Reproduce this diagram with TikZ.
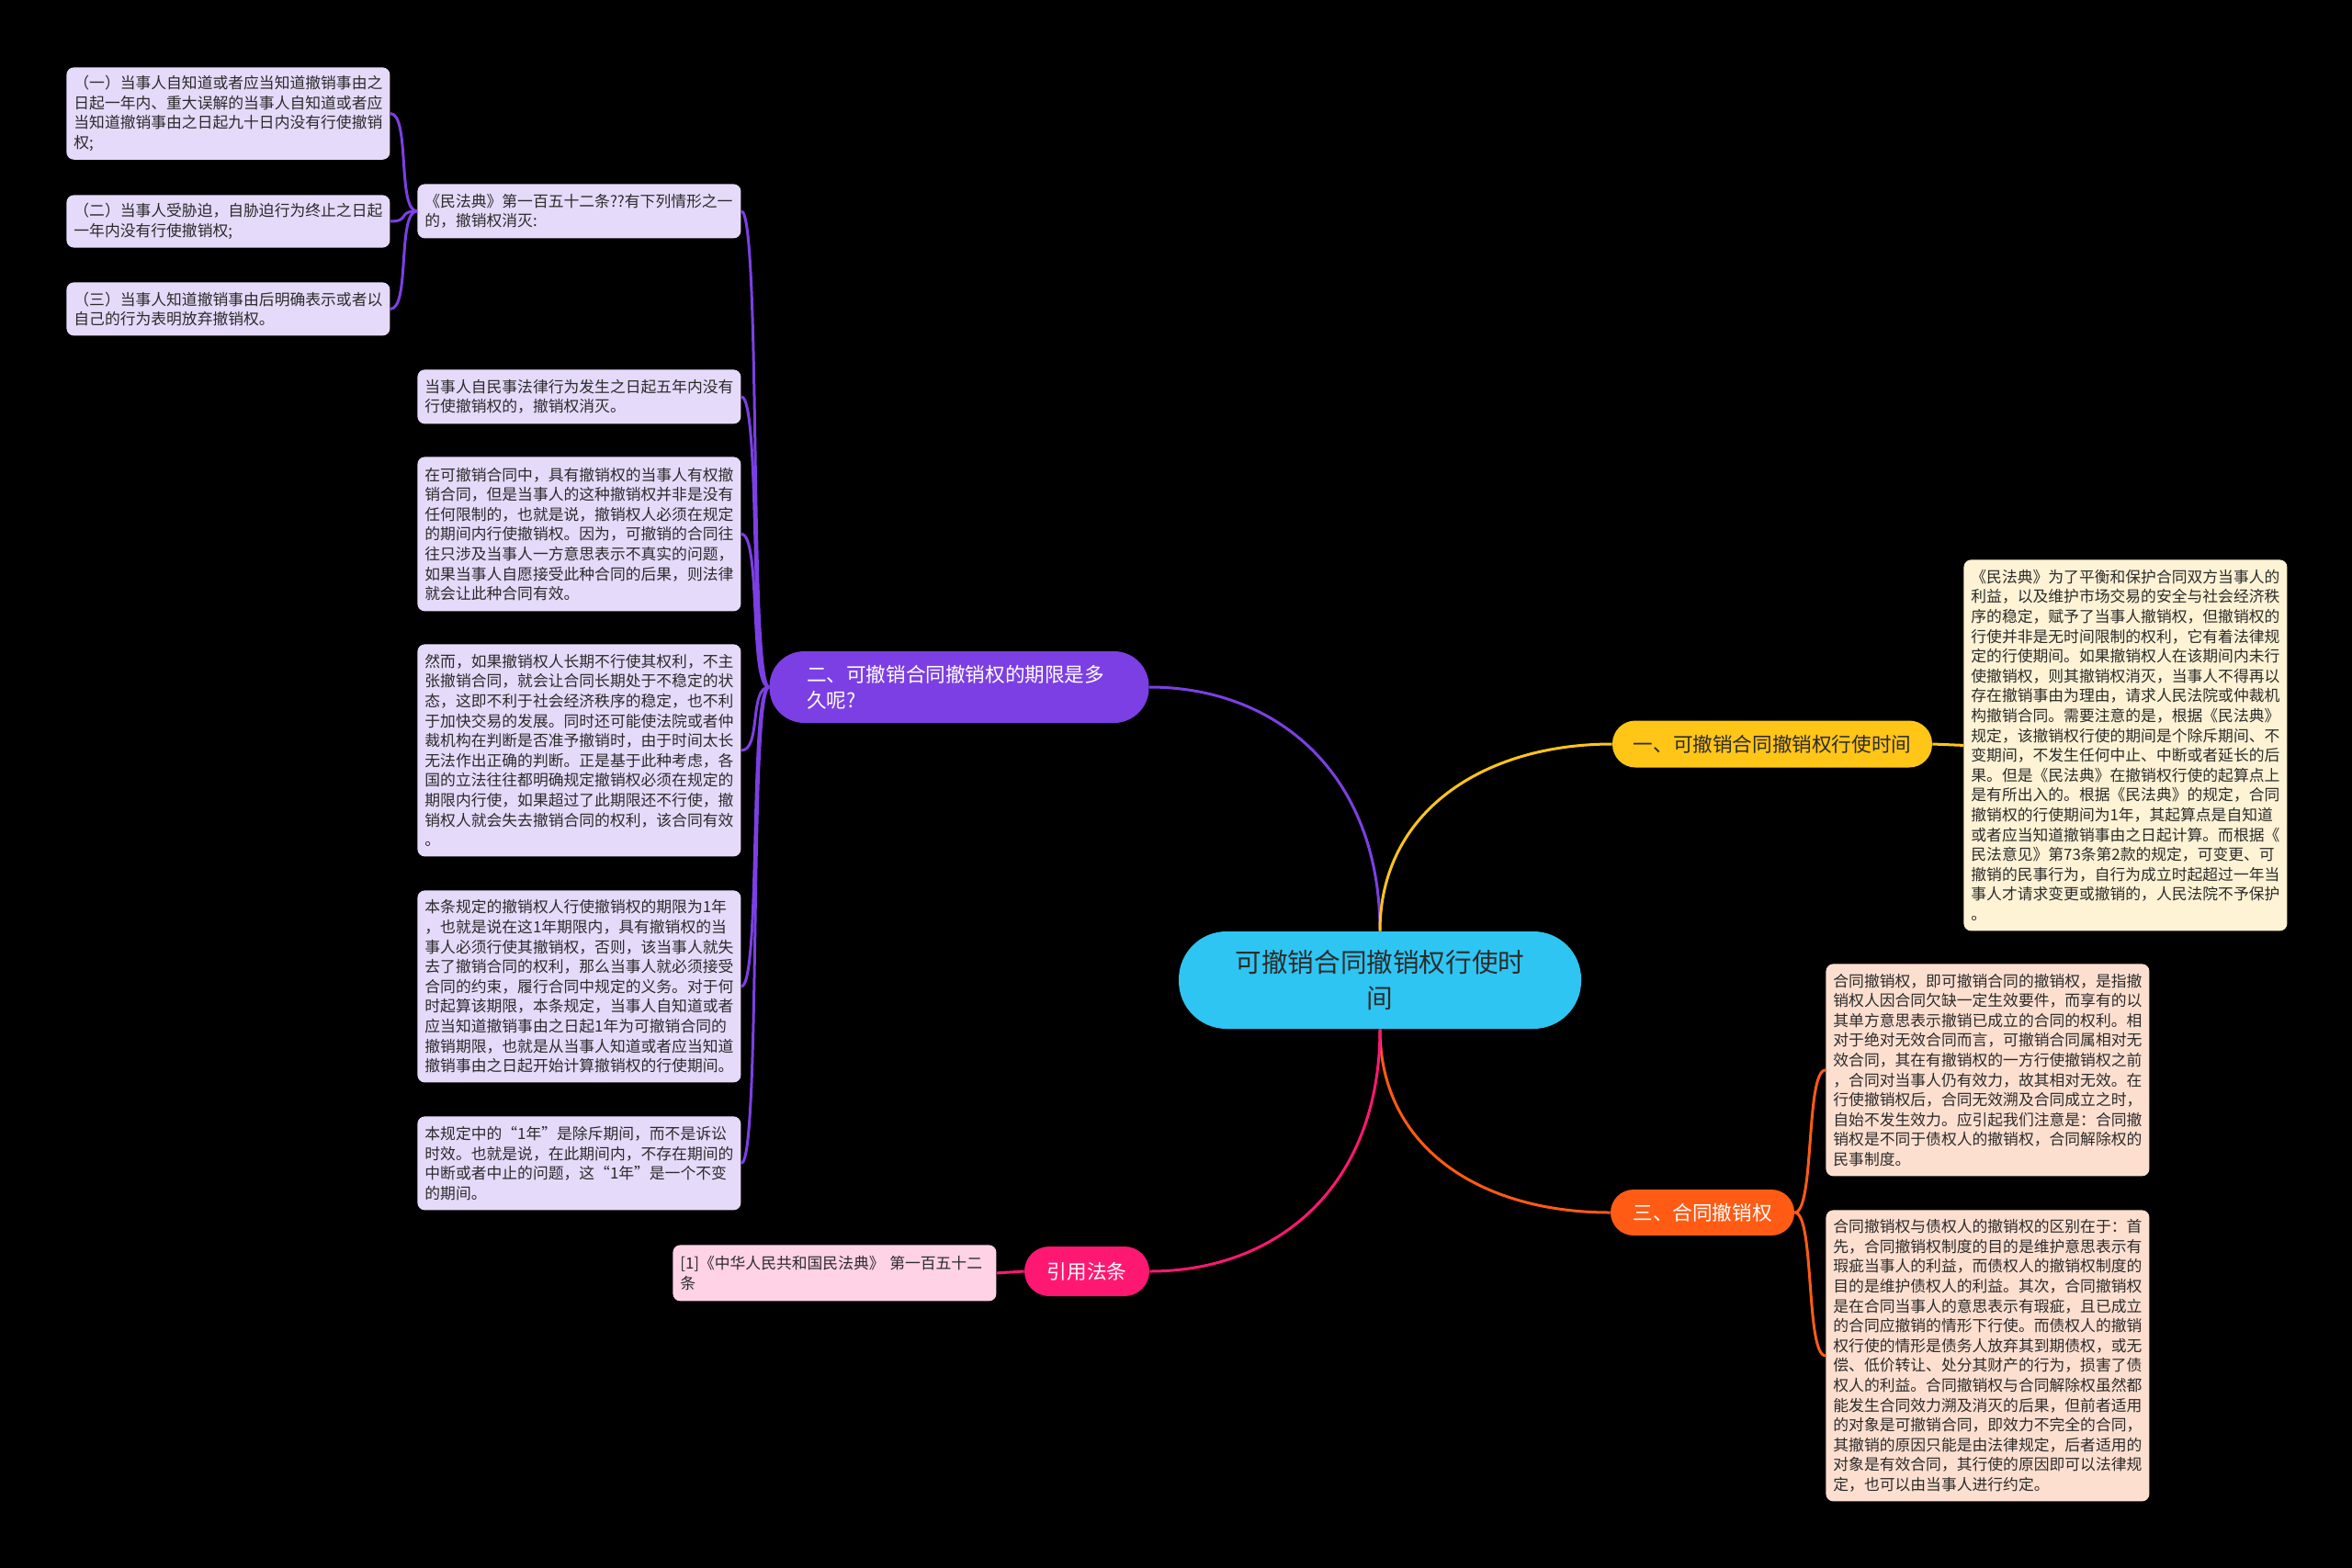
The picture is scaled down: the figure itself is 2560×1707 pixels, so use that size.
\documentclass[tikz,border=0pt]{standalone}
\usepackage{fontspec}
\setmainfont{Noto Sans CJK SC}
\usepackage{tikz}
\usetikzlibrary{
  arrows.meta,
  positioning,
  calc
}
\definecolor{ctRoot}{HTML}{2EC5F2}
\definecolor{ctYellow}{HTML}{FFC517}
\definecolor{ctPurple}{HTML}{7C3FE4}
\definecolor{ctOrange}{HTML}{FF5B14}
\definecolor{ctPink}{HTML}{FF1872}
\definecolor{ctPurpleLt}{HTML}{E6DAFA}
\definecolor{ctYellowLt}{HTML}{FFF3D5}
\definecolor{ctOrangeLt}{HTML}{FDDFD0}
\definecolor{ctPinkLt}{HTML}{FFD2E5}
\definecolor{ctText}{HTML}{2B2B2B}
\tikzset{
  ctleaf/.style={
    anchor=north west, rounded corners=4pt, text width=168pt, align=left,
    inner xsep=4pt, inner ysep=4.5pt, font=\fontsize{8.4}{10.8}\selectfont, text=ctText
  },
  purpleleaf/.style={ctleaf, fill=ctPurpleLt},
  yellowleaf/.style={ctleaf, fill=ctYellowLt},
  orangeleaf/.style={ctleaf, fill=ctOrangeLt},
  pinkleaf/.style={ctleaf, fill=ctPinkLt},
  ctpill/.style={
    inner sep=0pt, align=left, font=\fontsize{10.8}{14}\selectfont, text=white
  },
  rootnode/.style={
    fill=ctRoot, rounded corners=26pt, minimum width=219pt, minimum height=53pt,
    inner sep=0pt, align=center, font=\fontsize{14.3}{19.6}\selectfont, text=ctText
  },
  link/.style={line width=1.5pt}
}
\begin{document}
\begin{tikzpicture}[x=0.5pt, y=-0.5pt]
  \fill[black] (0,0) rectangle (2560,1707);
  \useasboundingbox (0,0) rectangle (2560,1707);

  \node[rootnode] (root) at (1502,1067) {可撤销合同撤销权行使时\\间};

  \node[ctpill, fill=ctYellow, text=ctText, rounded corners=12.5pt, minimum width=174pt, minimum height=25.5pt, align=center] (br1) at (1929,810) {一、可撤销合同撤销权行使时间};
  \node[ctpill, fill=ctPurple, rounded corners=19pt, minimum width=206.5pt, minimum height=39pt, text width=166pt] (br2) at (1044,748) {二、可撤销合同撤销权的期限是多\\久呢?};
  \node[ctpill, fill=ctOrange, rounded corners=12.5pt, minimum width=100pt, minimum height=25pt, align=center] (br3) at (1853,1320) {三、合同撤销权};
  \node[ctpill, fill=ctPink, rounded corners=13.5pt, minimum width=68pt, minimum height=27pt, align=center] (br4) at (1183,1384) {引用法条};

  \node[purpleleaf, minimum height=29.5pt] (p1) at (454,200) {《民法典》第一百五十二条??有下列情形之一\\的，撤销权消灭:};
  \node[purpleleaf, minimum height=29.5pt] (p2) at (454,402) {当事人自民事法律行为发生之日起五年内没有\\行使撤销权的，撤销权消灭。};
  \node[purpleleaf, minimum height=84pt] (p3) at (454,497) {在可撤销合同中，具有撤销权的当事人有权撤\\销合同，但是当事人的这种撤销权并非是没有\\任何限制的，也就是说，撤销权人必须在规定\\的期间内行使撤销权。因为，可撤销的合同往\\往只涉及当事人一方意思表示不真实的问题，\\如果当事人自愿接受此种合同的后果，则法律\\就会让此种合同有效。};
  \node[purpleleaf, minimum height=115.5pt] (p4) at (454,701) {然而，如果撤销权人长期不行使其权利，不主\\张撤销合同，就会让合同长期处于不稳定的状\\态，这即不利于社会经济秩序的稳定，也不利\\于加快交易的发展。同时还可能使法院或者仲\\裁机构在判断是否准予撤销时，由于时间太长\\无法作出正确的判断。正是基于此种考虑，各\\国的立法往往都明确规定撤销权必须在规定的\\期限内行使，如果超过了此期限还不行使，撤\\销权人就会失去撤销合同的权利，该合同有效\\。};
  \node[purpleleaf, minimum height=104.5pt] (p5) at (454,969) {本条规定的撤销权人行使撤销权的期限为1年\\，也就是说在这1年期限内，具有撤销权的当\\事人必须行使其撤销权，否则，该当事人就失\\去了撤销合同的权利，那么当事人就必须接受\\合同的约束，履行合同中规定的义务。对于何\\时起算该期限，本条规定，当事人自知道或者\\应当知道撤销事由之日起1年为可撤销合同的\\撤销期限，也就是从当事人知道或者应当知道\\撤销事由之日起开始计算撤销权的行使期间。};
  \node[purpleleaf, minimum height=51pt] (p6) at (454,1215) {本规定中的“1年”是除斥期间，而不是诉讼\\时效。也就是说，在此期间内，不存在期间的\\中断或者中止的问题，这“1年”是一个不变\\的期间。};

  \node[purpleleaf, minimum height=50pt] (s1) at (72,73) {（一）当事人自知道或者应当知道撤销事由之\\日起一年内、重大误解的当事人自知道或者应\\当知道撤销事由之日起九十日内没有行使撤销\\权;};
  \node[purpleleaf, minimum height=28.5pt] (s2) at (72,212) {（二）当事人受胁迫，自胁迫行为终止之日起\\一年内没有行使撤销权;};
  \node[purpleleaf, minimum height=29pt] (s3) at (72,307) {（三）当事人知道撤销事由后明确表示或者以\\自己的行为表明放弃撤销权。};

  \node[yellowleaf, minimum height=202pt] (y1) at (2137,609) {《民法典》为了平衡和保护合同双方当事人的\\利益，以及维护市场交易的安全与社会经济秩\\序的稳定，赋予了当事人撤销权，但撤销权的\\行使并非是无时间限制的权利，它有着法律规\\定的行使期间。如果撤销权人在该期间内未行\\使撤销权，则其撤销权消灭，当事人不得再以\\存在撤销事由为理由，请求人民法院或仲裁机\\构撤销合同。需要注意的是，根据《民法典》\\规定，该撤销权行使的期间是个除斥期间、不\\变期间，不发生任何中止、中断或者延长的后\\果。但是《民法典》在撤销权行使的起算点上\\是有所出入的。根据《民法典》的规定，合同\\撤销权的行使期间为1年，其起算点是自知道\\或者应当知道撤销事由之日起计算。而根据《\\民法意见》第73条第2款的规定，可变更、可\\撤销的民事行为，自行为成立时起超过一年当\\事人才请求变更或撤销的，人民法院不予保护\\。};

  \node[orangeleaf, minimum height=115.5pt] (o1) at (1987,1049) {合同撤销权，即可撤销合同的撤销权，是指撤\\销权人因合同欠缺一定生效要件，而享有的以\\其单方意思表示撤销已成立的合同的权利。相\\对于绝对无效合同而言，可撤销合同属相对无\\效合同，其在有撤销权的一方行使撤销权之前\\，合同对当事人仍有效力，故其相对无效。在\\行使撤销权后，合同无效溯及合同成立之时，\\自始不发生效力。应引起我们注意是：合同撤\\销权是不同于债权人的撤销权，合同解除权的\\民事制度。};
  \node[orangeleaf, minimum height=158.5pt] (o2) at (1987,1317) {合同撤销权与债权人的撤销权的区别在于：首\\先，合同撤销权制度的目的是维护意思表示有\\瑕疵当事人的利益，而债权人的撤销权制度的\\目的是维护债权人的利益。其次，合同撤销权\\是在合同当事人的意思表示有瑕疵，且已成立\\的合同应撤销的情形下行使。而债权人的撤销\\权行使的情形是债务人放弃其到期债权，或无\\偿、低价转让、处分其财产的行为，损害了债\\权人的利益。合同撤销权与合同解除权虽然都\\能发生合同效力溯及消灭的后果，但前者适用\\的对象是可撤销合同，即效力不完全的合同，\\其撤销的原因只能是由法律规定，后者适用的\\对象是有效合同，其行使的原因即可以法律规\\定，也可以由当事人进行约定。};

  \node[pinkleaf, minimum height=30.5pt] (k1) at (732,1355) {[1]《中华人民共和国民法典》 第一百五十二\\条};

  \draw[link, ctPurple] (root.north) .. controls +(0,-170) and +(140,0) .. (br2.east);
  \draw[link, ctYellow] (root.north) .. controls +(0,-130) and +(-140,0) .. (br1.west);
  \draw[link, ctOrange] (root.south) .. controls +(0,130) and +(-140,0) .. (br3.west);
  \draw[link, ctPink] (root.south) .. controls +(0,170) and +(140,0) .. (br4.east);

  \foreach \n in {p1,p2,p3,p4,p5,p6}
    \draw[link, ctPurple] (br2.west) .. controls +(-22,0) and +(22,0) .. (\n.east);
  \foreach \n in {s1,s2,s3}
    \draw[link, ctPurple] (p1.west) .. controls +(-22,0) and +(22,0) .. (\n.east);
  \foreach \n in {o1,o2}
    \draw[link, ctOrange] (br3.east) .. controls +(22,0) and +(-22,0) .. (\n.west);
  \draw[link, ctYellow] (br1.east) -- (y1.west);
  \draw[link, ctPink] (br4.west) -- (k1.east);
\end{tikzpicture}
\end{document}
